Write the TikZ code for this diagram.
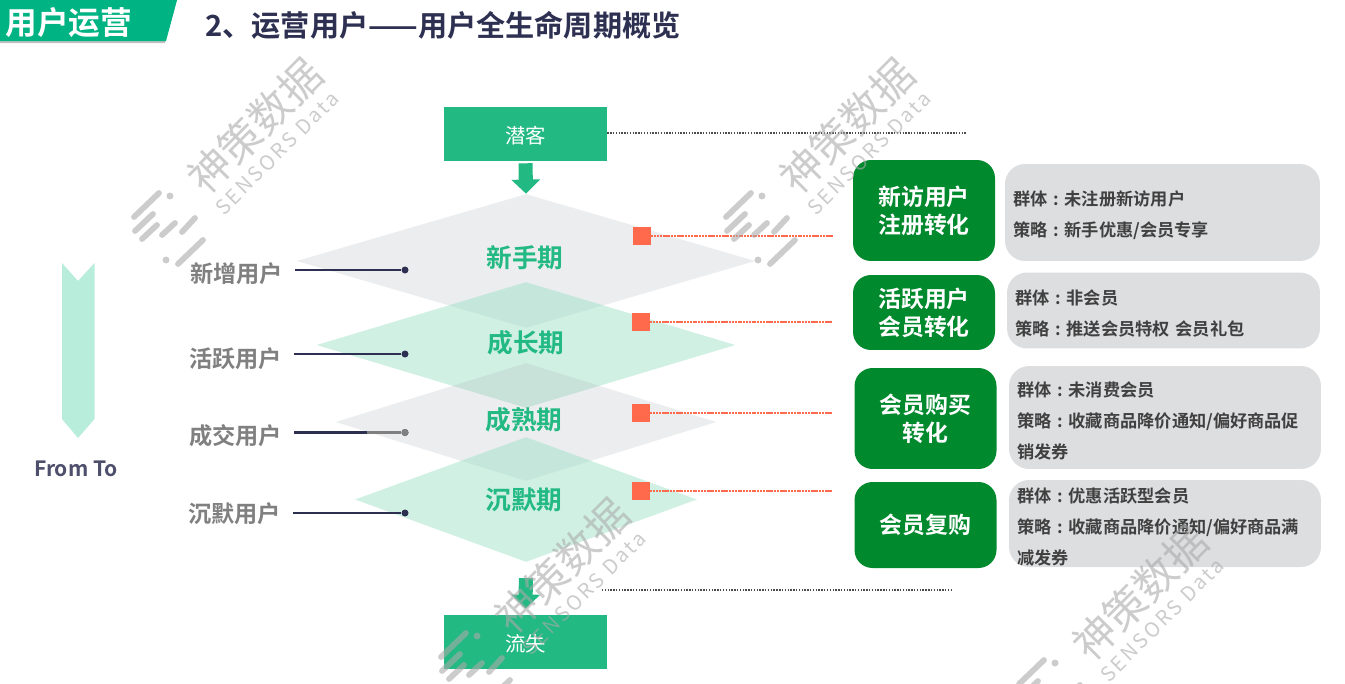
\documentclass[tikz,border=0pt]{standalone}
\usepackage{fontspec}
\setmainfont{Noto Sans CJK SC}[BoldFont={Noto Sans CJK SC Bold}]
\usepackage{xcolor}
\usepackage{tikz}
\usetikzlibrary{arrows.meta,positioning,calc,shapes.geometric}
\definecolor{mygreen}{RGB}{34,185,131}
\definecolor{myhead}{RGB}{0,179,131}
\definecolor{mydark}{RGB}{0,137,45}
\definecolor{mynavy}{RGB}{46,48,82}
\definecolor{myred}{RGB}{255,106,77}
\definecolor{mypale}{RGB}{184,236,219}
\definecolor{mybox}{RGB}{221,222,224}
\definecolor{mystage}{RGB}{176,184,190}
\definecolor{mymint}{RGB}{151,222,195}
\definecolor{mymark}{RGB}{170,170,170}
\newcommand{\cnsep}{\makebox[1em]{:}}

\begin{document}
\begin{tikzpicture}[x=0.02cm,y=-0.02cm,
    endbox/.style={fill=mygreen,minimum width=3.26cm,minimum height=1.08cm,
      inner sep=0pt,text=white,font=\fontsize{11.6}{14}\selectfont,
      execute at begin node={\rule{0pt}{12pt}}},
    stage/.style={shape=diamond,inner sep=0pt,fill opacity=#1},
    stagename/.style={text=mygreen,inner sep=0pt,font=\fontsize{14.6}{17}\selectfont\bfseries},
    kind/.style={text=black!50,inner sep=0pt,font=\fontsize{13.2}{16}\selectfont\bfseries},
    leadline/.style={draw=mynavy,line width=1.3pt},
    leaddot/.style={circle,fill=mynavy,inner sep=0pt,minimum size=0.14cm},
    tag/.style={fill=myred,inner sep=0pt,minimum width=0.36cm,minimum height=0.36cm},
    tagline/.style={draw=myred,line width=1.2pt,dash pattern=on 1.2pt off 0.4pt},
    dotline/.style={draw=black!70,line width=1.2pt,dash pattern=on 0.8pt off 0.8pt},
    flow/.style={draw=mygreen,line width=8pt,-{Triangle[width=16pt,length=8pt]}},
    goalbox/.style={fill=mydark,rounded corners=0.36cm,inner sep=0pt,text=white,
      align=center,minimum width=2.84cm,font=\fontsize{13}{16}\selectfont\bfseries},
    planbox/.style={fill=mybox,rounded corners=0.4cm,inner xsep=0.16cm,inner ysep=0pt,
      text=black!75,align=left,font=\fontsize{9.8}{17.65}\selectfont\bfseries,
      execute at begin node={\rule{0pt}{12pt}}},
    markline/.style={draw=mymark,line width=3.3pt,line cap=round,opacity=0.6}]
  \useasboundingbox (0,0) rectangle (1345,683);

  % header
  \fill[black!25] (0,0) -- (177,0) -- (165,43) -- (0,43) -- cycle;
  \fill[myhead] (0,0) -- (177,0) -- (166,41) -- (0,41) -- cycle;
  \node[text=white,inner sep=0pt,font=\fontsize{18}{20}\selectfont\bfseries]
    (section) at (69,23) {用户运营};
  \node[text=mynavy,anchor=west,inner sep=0pt,font=\fontsize{16.6}{20}\selectfont\bfseries]
    (title) at (205,25) {2、运营用户——用户全生命周期概览};

  % from-to band
  \fill[mypale] (62,263) -- (78,281) -- (94.5,263) -- (94.5,419) -- (78,438)
    -- (62,419) -- cycle;
  \node[text=mynavy!85,inner sep=0pt,font=\fontsize{12}{14}\selectfont\bfseries]
    (fromto) at (76,469) {From To};

  % stages
  \foreach \nm/\cx/\cy/\dw/\dh/\col/\op in {
    xinshou/526/261/9.18/2.68/mystage/0.25,
    chengzhang/526/345/8.38/2.52/mymint/0.45,
    chengshu/526/422/7.62/2.36/mystage/0.25,
    chenmo/526/499.5/6.84/2.50/mymint/0.45}
  {
    \node[stage=\op,fill=\col,minimum width=\dw cm,minimum height=\dh cm]
      (\nm) at (\cx,\cy) {};
  }
  \foreach \nm/\txt/\cx/\cy in {
    xinshouname/新手期/525/257.5,
    chengzhangname/成长期/526/342.5,
    chengshuname/成熟期/524/419.5,
    chenmoname/沉默期/524/500}
  {
    \node[stagename] (\nm) at (\cx,\cy) {\txt};
  }

  % both ends
  \node[endbox] (qianke) at (525.5,134) {潜客};
  \node[endbox] (liushi) at (525.5,642) {流失};
  \draw[flow,shorten <=1.1pt] (qianke.south) -- (xinshou.north);
  \draw[flow,shorten <=9pt,shorten >=3.4pt] (chenmo.south) -- (liushi.north);
  \coordinate (qiankeend) at (966,133);
  \coordinate (liushistart) at (602,590);
  \coordinate (liushiend) at (953,590);
  \draw[dotline] (qianke.east |- qiankeend) -- (qiankeend);
  \draw[dotline] (liushistart) -- (liushiend);

  % user kinds
  \foreach \nm/\txt/\lx/\ly/\dy in {
    xinzeng/新增用户/236.5/273.5/270,
    huoyue/活跃用户/235.5/358.5/354,
    chengjiao/成交用户/235.5/435.5/432.5,
    chenmouser/沉默用户/234.5/513.5/513}
  {
    \node[kind] (\nm) at (\lx,\ly) {\txt};
    \node[leaddot] (\nm dot) at (405,\dy) {};
  }
  \draw[leadline,shorten <=6.8pt] (xinzeng.east |- xinzengdot) -- (xinzengdot);
  \draw[leadline,shorten <=6.8pt] (huoyue.east |- huoyuedot) -- (huoyuedot);
  \draw[leadline,shorten <=6.8pt] (chenmouser.east |- chenmouserdot) -- (chenmouserdot);
  \node[leaddot,fill=black!50] at (chengjiaodot) {};
  \coordinate (chengjiaomid) at (367,432.5);
  \draw[leadline,shorten <=6.8pt] (chengjiao.east |- chengjiaodot) -- (chengjiaomid);
  \draw[leadline,draw=black!50] (chengjiaomid) -- (chengjiaodot);

  % tags
  \foreach \nm/\tx/\ty/\ey in {
    taga/642/236/236,
    tagb/641/322/322,
    tagc/641/413/413,
    tagd/641/491/491}
  {
    \node[tag] (\nm) at (\tx,\ty) {};
    \coordinate (\nm end) at (833,\ey);
    \draw[tagline] (\nm.east |- \nm end) -- (\nm end);
  }

  % right column
  \node[goalbox,minimum height=2.02cm] (goala) at (924,210.5)
    {新访用户\\注册转化};
  \node[goalbox,minimum height=1.5cm] (goalb) at (924,312.5)
    {活跃用户\\会员转化};
  \node[goalbox,minimum height=2.02cm] (goalc) at (925.5,418.5)
    {会员购买\\转化};
  \node[goalbox,minimum height=1.72cm] (goald) at (925.5,525)
    {会员复购};
  \node[planbox,minimum height=1.94cm,text width=5.98cm] (plana) at (1162.5,212.5)
    {群体\cnsep 未注册新访用户\\策略\cnsep 新手优惠/会员专享};
  \node[planbox,minimum height=1.52cm,text width=5.94cm] (planb) at (1163.5,310.5)
    {群体\cnsep 非会员\\策略\cnsep 推送会员特权 会员礼包};
  \node[planbox,minimum height=2.06cm,text width=5.92cm] (planc) at (1165,417.5)
    {群体\cnsep 未消费会员\\策略\cnsep 收藏商品降价通知/偏好商品促\\销发券};
  \node[planbox,minimum height=1.74cm,text width=5.92cm] (pland) at (1165,523.5)
    {群体\cnsep 优惠活跃型会员\\策略\cnsep 收藏商品降价通知/偏好商品满\\减发券};

  % watermarks
  \foreach \dx/\dy in {0/0,592/0,307/440,885/467}
  {
    \begin{scope}[shift={(\dx,\dy)}]
      \draw[markline] (134,217) -- (159,193);
      \draw[markline] (135,231) -- (153,214);
      \draw[markline] (142,239) -- (157,225);
      \draw[markline] (162,235) -- (175,223);
      \draw[markline] (182,232) -- (195,218);
      \draw[markline] (178,264) -- (203,240);
      \fill[mymark,opacity=0.6] (170,196) circle (3.5);
      \fill[mymark,opacity=0.6] (166,260) circle (3.5);
      \node[rotate=45,text=mymark,opacity=0.6,inner sep=0pt,
        font=\fontsize{24}{28}\selectfont] at (255,126) {神策数据};
      \node[rotate=45,text=mymark,opacity=0.6,inner sep=0pt,
        font=\fontsize{11.5}{14}\selectfont\addfontfeature{LetterSpace=13}]
        at (277,153) {SENSORS Data};
    \end{scope}
  }
\end{tikzpicture}
\end{document}
